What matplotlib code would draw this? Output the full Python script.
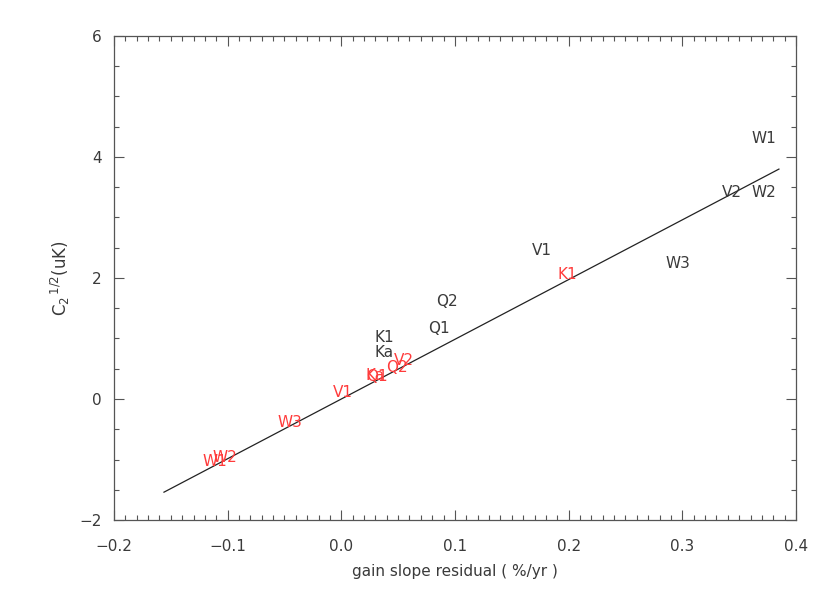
import matplotlib
matplotlib.use("Agg")
import matplotlib.pyplot as plt
from matplotlib.ticker import MultipleLocator

# labels placed at (gain slope residual, C2^1/2) -- black set
black_labels = ["W1", "V2", "W2", "V1", "W3", "Q2", "Q1", "K1", "Ka"]
black_x = [0.361, 0.335, 0.361, 0.168, 0.285, 0.083, 0.076, 0.029, 0.029]
black_y = [4.23, 3.34, 3.34, 2.38, 2.17, 1.54, 1.09, 0.94, 0.69]

# red set
red_labels = ["K1", "Ka", "Q1", "Q2", "V2", "V1", "W3", "W1", "W2"]
red_x = [0.190, 0.021, 0.022, 0.039, 0.046, -0.007, -0.056, -0.122, -0.113]
red_y = [1.98, 0.31, 0.30, 0.45, 0.56, 0.03, -0.46, -1.11, -1.04]

# fitted line end points
fit_x = [-0.156, 0.385]
fit_y = [-1.54, 3.80]

txt = "#3a3a3a"
red = "#ff3b3b"

fig = plt.figure(figsize=(8.3, 5.93), dpi=100)
ax = fig.add_axes([0.1373, 0.1231, 0.8217, 0.8162])

ax.plot(fit_x, fit_y, color="#222222", linewidth=0.9)

for lab, x, y in zip(black_labels, black_x, black_y):
    ax.text(x, y, lab, color=txt, fontsize=11, ha="left", va="baseline")
for lab, x, y in zip(red_labels, red_x, red_y):
    ax.text(x, y, lab, color=red, fontsize=11, ha="left", va="baseline")

ax.set_xlim(-0.2, 0.4)
ax.set_ylim(-2, 6)
ax.xaxis.set_major_locator(MultipleLocator(0.1))
ax.xaxis.set_minor_locator(MultipleLocator(0.01))
ax.yaxis.set_major_locator(MultipleLocator(2))
ax.yaxis.set_minor_locator(MultipleLocator(0.5))
ax.xaxis.set_major_formatter(plt.FuncFormatter(lambda v, p: f"{v:.1f}".replace("-", "\u2212")))
ax.yaxis.set_major_formatter(plt.FuncFormatter(lambda v, p: f"{v:.0f}".replace("-", "\u2212")))

ax.tick_params(which="both", direction="in", top=True, right=True,
               colors="#555555", labelcolor=txt, labelsize=11, width=0.8)
ax.tick_params(which="major", length=7)
ax.tick_params(axis="x", which="major", pad=14)
ax.tick_params(axis="y", which="major", pad=9)
ax.tick_params(which="minor", length=3.5)
for s in ax.spines.values():
    s.set_color("#555555")
    s.set_linewidth(0.9)

ax.set_xlabel("gain slope residual ( %/yr )", fontsize=11, color=txt, labelpad=7)
ax.set_ylabel(r"C$_2$$^{\,1/2}$(uK)", fontsize=12, color=txt, labelpad=5)

fig.savefig("out.png", dpi=100)
